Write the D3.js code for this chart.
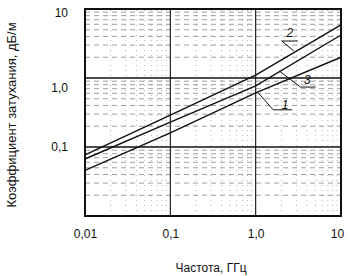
<!DOCTYPE html>
<html>
<head>
<meta charset="utf-8">
<script src="https://cdn.jsdelivr.net/npm/d3@7"></script>
<style>
  body { margin: 0; background: #fff; }
  text { font-family: "Liberation Sans", Arial, sans-serif; fill: #111; }
</style>
</head>
<body>
<div id="chart"></div>
<script>
// Частоты (ГГц), в которых сняты точки кривых
const freqs = [0.01, 0.1, 1, 10];
// Коэффициент затухания, дБ/м, для кривых 1, 2, 3
const curve1 = [0.046, 0.16, 0.61, 2.0];
const curve2 = [0.077, 0.29, 1.1, 5.9];
const curve3 = [0.067, 0.23, 0.77, 4.2];
const curveNames = ["1", "2", "3"];

// Подписи делений
const xTicks = [0.01, 0.1, 1, 10];
const xTickLabels = ["0,01", "0,1", "1,0", "10"];
const yTicks = [0.1, 1, 10];
const yTickLabels = ["0,1", "1,0", "10"];

// Точки выносок (частота, значение на кривой)
const leaderFreq = [1.07, 2.8, 1.9];
const leaderVal = [0.61, 2.46, 1.26];

const W = 351, H = 276;
const margin = { top: 9, right: 10, bottom: 60, left: 85 };

const svg = d3.select("#chart").append("svg")
  .attr("width", W).attr("height", H);

const x = d3.scaleLog().domain([0.01, 10]).range([margin.left, W - margin.right]);
const y = d3.scaleLog().domain([0.01, 10]).range([H - margin.bottom, margin.top]);

// Сетка: промежуточные линии
const minor = [];
[0.01, 0.1, 1].forEach((d) => {
  for (let k = 2; k <= 9; k++) minor.push(d * k);
});

const grid = svg.append("g");
grid.selectAll(".vx").data(minor).enter().append("line")
  .attr("x1", (d) => x(d)).attr("x2", (d) => x(d))
  .attr("y1", y(0.01)).attr("y2", y(10))
  .attr("stroke", "#999").attr("stroke-width", 0.7)
  .attr("stroke-dasharray", "1,4");
grid.selectAll(".hy").data(minor).enter().append("line")
  .attr("y1", (d) => y(d)).attr("y2", (d) => y(d))
  .attr("x1", x(0.01)).attr("x2", x(10))
  .attr("stroke", "#777").attr("stroke-width", 0.7)
  .attr("stroke-dasharray", "5,4");

// Сетка: декады
grid.selectAll(".vmaj").data([0.1, 1]).enter().append("line")
  .attr("x1", (d) => x(d)).attr("x2", (d) => x(d))
  .attr("y1", y(0.01)).attr("y2", y(10))
  .attr("stroke", "#111").attr("stroke-width", 1.1);
grid.selectAll(".hmaj").data([0.1, 1]).enter().append("line")
  .attr("y1", (d) => y(d)).attr("y2", (d) => y(d))
  .attr("x1", x(0.01)).attr("x2", x(10))
  .attr("stroke", "#111").attr("stroke-width", 1.6);

// Рамка
svg.append("rect")
  .attr("x", x(0.01)).attr("y", y(10))
  .attr("width", x(10) - x(0.01)).attr("height", y(0.01) - y(10))
  .attr("fill", "none").attr("stroke", "#111").attr("stroke-width", 2);

// Оси
const xAxis = svg.append("g")
  .attr("transform", `translate(0,${y(0.01)})`)
  .call(d3.axisBottom(x).tickValues(xTicks).tickSize(0).tickPadding(13)
    .tickFormat((d, i) => xTickLabels[i]));
const yAxis = svg.append("g")
  .attr("transform", `translate(${x(0.01)},0)`)
  .call(d3.axisLeft(y).tickValues(yTicks).tickSize(0).tickPadding(17)
    .tickFormat((d, i) => yTickLabels[i]));
[xAxis, yAxis].forEach((g) => {
  g.select(".domain").remove();
  g.selectAll("text").attr("font-size", "12px")
    .attr("font-family", "Liberation Sans, Arial, sans-serif").attr("fill", "#111");
});
// подпись "10" справа сдвинута внутрь, как на скане
xAxis.selectAll("text").filter((d) => d === 10).attr("dx", "-4");
yAxis.selectAll("text").filter((d) => d === 1).attr("dy", "1.1em");
yAxis.selectAll("text").filter((d) => d === 10).attr("dy", "0.62em");

// Кривые
const line = d3.line().x((d) => x(d[0])).y((d) => y(d[1]));
[curve1, curve2, curve3].forEach((c) => {
  svg.append("path")
    .datum(freqs.map((f, i) => [f, c[i]]))
    .attr("d", line)
    .attr("fill", "none").attr("stroke", "#111").attr("stroke-width", 1.4);
});

// Выноски с номерами кривых
const leaderOffsets = [
  { ex: 15, ey: 17, ux: 19, tx: 12, ty: -1 },
  { ex: -12, ey: -10, ux: 16, tx: 8, ty: -4 },
  { ex: 21, ey: 16, ux: 15, tx: 7, ty: -3 },
];
curveNames.forEach((name, i) => {
  const px = x(leaderFreq[i]), py = y(leaderVal[i]);
  const o = leaderOffsets[i];
  svg.append("path")
    .attr("d", `M${px},${py}L${px + o.ex},${py + o.ey}h${o.ux}`)
    .attr("fill", "none").attr("stroke", "#111").attr("stroke-width", 1);
  svg.append("text")
    .attr("x", px + o.ex + o.tx).attr("y", py + o.ey + o.ty)
    .attr("text-anchor", "middle")
    .attr("font-size", "12px").attr("font-style", "italic")
    .text(name);
});

// Заголовки осей
svg.append("text")
  .attr("x", 211).attr("y", 272)
  .attr("text-anchor", "middle").attr("font-size", "12px")
  .text("Частота, ГГц");
svg.append("text")
  .attr("transform", "translate(16,115) rotate(-90)")
  .attr("text-anchor", "middle").attr("font-size", "13px")
  .text("Коэффициент затухания, дБ/м");
</script>
</body>
</html>
